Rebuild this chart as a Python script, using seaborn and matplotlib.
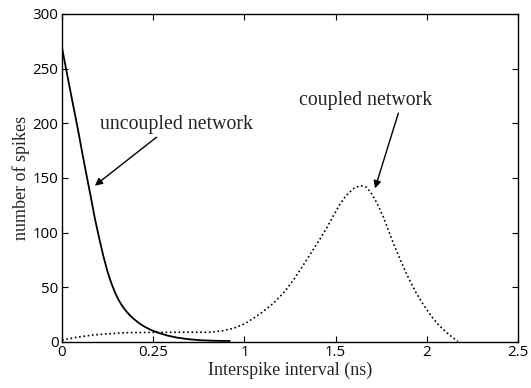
import matplotlib
matplotlib.use("Agg")
import matplotlib.pyplot as plt
import seaborn as sns
import pandas as pd

# ---- data ----
uncoupled_x = [0.0, 0.022, 0.044, 0.067, 0.09, 0.112, 0.135, 0.158, 0.18, 0.203, 0.226, 0.25, 0.27,
               0.29, 0.31, 0.33, 0.35, 0.37, 0.39, 0.42, 0.45, 0.49, 0.53, 0.58, 0.63, 0.69,
               0.76, 0.84, 0.92]
uncoupled_y = [269, 250, 231, 211.5, 192, 172, 152, 132.5, 113, 95.5, 79, 64, 54,
               45.5, 38.5, 33, 28.5, 24.8, 21.6, 17.5, 14.2, 10.8, 8.3, 5.8, 4.0, 2.6,
               1.6, 1.1, 0.9]

coupled_x = [0.0, 0.08, 0.17, 0.26, 0.355, 0.45, 0.53, 0.67, 0.81, 0.88, 0.94, 1.0, 1.05, 1.10, 1.16,
             1.22, 1.27, 1.31, 1.36, 1.41, 1.45, 1.485, 1.52, 1.558, 1.60, 1.636, 1.67, 1.70,
             1.73, 1.76, 1.79, 1.82, 1.85, 1.88, 1.91, 1.94, 1.97, 2.00, 2.03, 2.06, 2.09,
             2.12, 2.15, 2.17]
coupled_y = [1.8, 4.3, 6.4, 7.6, 8.5, 8.7, 8.8, 8.9, 8.9, 10.3, 12.5, 16.5, 21.7, 27.5, 35.5,
             46, 57, 67, 80, 93, 104, 114.6, 125, 134, 140.5, 143, 141.5, 135,
             126, 115, 102, 89, 77, 65.5, 55, 45.5, 37, 29.5, 22.5, 16.5, 11.5,
             7, 3, 0.5]

x_ticks = [0, 0.5, 1, 1.5, 2, 2.5]
x_tick_labels = ["0", "0.25", "1", "1.5", "2", "2.5"]
y_ticks = [0, 50, 100, 150, 200, 250, 300]

x_label = "Interspike interval (ns)"
y_label = "number of spikes"
ann_uncoupled = "uncoupled network"
ann_coupled = "coupled network"

# ---- plot ----
sns.set_style("white")
plt.rcParams["font.family"] = ["Liberation Serif", "DejaVu Serif"]

fig = plt.figure(figsize=(5.31, 3.88), dpi=100)
ax = fig.add_axes([0.1168, 0.1186, 0.9755 - 0.1168, 0.964 - 0.1186])

df_u = pd.DataFrame({"x": uncoupled_x, "y": uncoupled_y})
df_c = pd.DataFrame({"x": coupled_x, "y": coupled_y})
sns.lineplot(data=df_u, x="x", y="y", ax=ax, color="black", linewidth=1.3, sort=False)
sns.lineplot(data=df_c, x="x", y="y", ax=ax, color="black", linewidth=1.2,
             linestyle=(0, (1, 1.6)), sort=False)

ax.set_xlim(0, 2.5)
ax.set_ylim(0, 300)
ax.set_xticks(x_ticks)
ax.set_xticklabels(x_tick_labels)
ax.set_yticks(y_ticks)

for lab in ax.get_xticklabels() + ax.get_yticklabels():
    lab.set_fontfamily(["Open Sans", "DejaVu Sans"])
    lab.set_fontsize(10.8)

ax.tick_params(direction="in", length=4, width=0.8, top=True, right=True,
               bottom=True, left=True, colors="black", pad=2.5)
for s in ax.spines.values():
    s.set_visible(True)
    s.set_color("black")
    s.set_linewidth(1.0)

ax.set_xlabel(x_label, fontsize=13, labelpad=1)
ax.set_ylabel(y_label, fontsize=13, labelpad=2)

arrow = dict(arrowstyle="-|>", color="black", lw=1.0, mutation_scale=11,
             shrinkA=0, shrinkB=0)
ax.annotate(ann_uncoupled, xy=(0.18, 143), xytext=(0.625, 199),
            fontsize=14.3, ha="center", va="center",
            arrowprops=dict(arrow, relpos=(0.4, 0.0)))
ax.annotate(ann_coupled, xy=(1.716, 140.5), xytext=(1.667, 221),
            fontsize=14.3, ha="center", va="center",
            arrowprops=dict(arrow, relpos=(0.75, 0.0)))

fig.savefig("out.png", dpi=100)
